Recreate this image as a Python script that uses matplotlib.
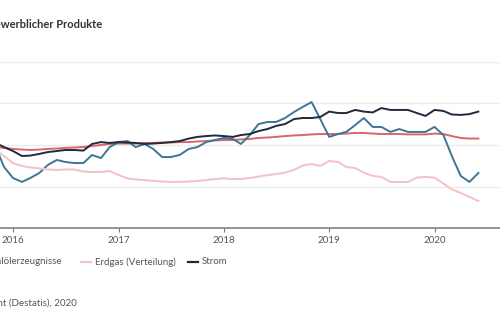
import matplotlib
import matplotlib.pyplot as plt
import matplotlib.dates as mdates
from matplotlib.lines import Line2D
import pandas as pd

matplotlib.use('Agg')
plt.ioff()

# monthly values, Nov 2015 .. Jun 2020 (index)
months = pd.date_range('2015-11-01', '2020-06-01', freq='MS')

insgesamt = [99.0, 98.6, 98.1, 97.8, 97.6, 97.8, 98.1, 98.3, 98.6, 98.8, 99.0, 99.5, 100.0, 100.5,
             100.7, 100.7, 100.7, 101.0, 101.0, 101.2, 101.2, 101.4, 101.4, 101.7, 101.9, 102.2,
             102.4, 102.4, 102.7, 102.9, 103.4, 103.6, 103.9, 104.3, 104.6, 104.8, 105.1, 105.3,
             105.3, 105.3, 105.5, 105.8, 105.8, 105.5, 105.3, 105.3, 105.3, 105.1, 105.1, 105.1,
             105.5, 105.3, 104.3, 103.4, 103.1, 103.1]

mineraloel = [99.5, 89.4, 84.1, 82.2, 84.1, 86.5, 90.4, 92.8, 91.8, 91.3, 91.3, 95.2, 93.7, 99.0,
              101.4, 101.9, 99.0, 100.5, 98.1, 94.2, 94.2, 95.2, 98.1, 99.0, 101.4, 102.4,
              103.4, 102.9, 100.5, 104.8, 110.1, 111.1, 111.1, 113.0, 115.9, 118.3, 120.7, 112.5,
              103.9, 105.3, 106.3, 109.6, 113.0, 108.7, 108.7, 106.3, 107.7, 106.3, 106.3, 106.3,
              108.7, 104.8, 94.7, 85.1, 82.2, 86.5]

erdgas = [97.6, 94.7, 91.3, 89.9, 89.2, 88.7, 88.2, 88.0, 88.2, 88.2, 87.2, 87.0, 87.0, 87.5,
          85.5, 83.9, 83.4, 83.1, 82.7, 82.4, 82.2, 82.2, 82.4, 82.7, 83.1, 83.6,
          83.9, 83.6, 83.6, 84.1, 84.8, 85.5, 86.0, 86.7, 88.0, 90.1, 90.8, 89.9,
          92.3, 91.8, 89.4, 88.9, 86.7, 85.1, 84.6, 82.2, 82.2, 82.2, 84.3, 84.6,
          84.3, 81.4, 78.6, 76.9, 75.0, 73.0]

strom = [101.0, 99.0, 97.1, 94.7, 94.9, 95.7, 96.6, 97.1, 97.6, 97.6, 97.3, 100.5, 101.4, 101.0,
         101.4, 101.2, 101.0, 100.5, 100.7, 101.0, 101.4, 101.9, 103.1, 103.9, 104.3, 104.6,
         104.3, 103.9, 104.8, 105.3, 106.7, 107.7, 109.2, 110.1, 112.5, 113.0, 113.0, 113.5,
         116.1, 115.4, 115.4, 116.9, 116.1, 115.7, 117.8, 116.9, 116.9, 116.9, 115.4, 114.0,
         116.9, 116.4, 114.7, 114.5, 114.9, 116.1]

yTicks = [60, 80, 100, 120, 140]
years = [2016, 2017, 2018, 2019, 2020]

series = [
    ('Insgesamt', insgesamt, '#d9666a'),
    ('Mineralölerzeugnisse', mineraloel, '#3f7595'),
    ('Erdgas (Verteilung)', erdgas, '#f2c2c6'),
    ('Strom', strom, '#1f2a3a'),
]

plt.rcParams['font.family'] = ['Lato', 'DejaVu Sans']
textColor = '#555555'

fig = plt.figure(figsize=(5, 3.3), dpi=100)
ax = fig.add_axes([-0.12, 1 - 228 / 330, 1.12, (228 - 62) / 330])

for name, values, color in series:
    ax.plot(months, values, color=color, lw=1.4, solid_joinstyle='round', zorder=3)

ax.set_ylim(yTicks[0], yTicks[-1])
ax.set_yticks(yTicks)
ax.set_yticklabels([])  # the value axis lies left of the visible crop
ax.set_xlim(pd.Timestamp('2015-04-23'), pd.Timestamp('2020-08-15'))
ax.set_xticks([pd.Timestamp(f'{y}-01-01') for y in years])
ax.xaxis.set_major_formatter(mdates.DateFormatter('%Y'))

ax.grid(axis='y', color='#ebebeb', lw=1)
ax.set_axisbelow(True)
for side in ['top', 'right', 'left']:
    ax.spines[side].set_visible(False)
ax.spines['bottom'].set_color('#777777')
ax.spines['bottom'].set_linewidth(1.1)
ax.tick_params(axis='x', length=3, color='#777777', labelsize=7, labelcolor=textColor, pad=3)
ax.tick_params(axis='y', length=0)

# title and source (cut at the left edge as in the original)
fig.text(102 / 500, 1 - 24 / 330, 'Erzeugerpreise gewerblicher Produkte', ha='right', va='center',
         fontsize=8, fontweight='bold', color='#333333')
fig.text(77 / 500, 1 - 303 / 330, 'Quelle: Statistisches Bundesamt (Destatis), 2020', ha='right',
         va='center', fontsize=7, color=textColor)

# legend (only the visible part)
legY = 1 - 262 / 330
fig.text(62 / 500, legY, 'Mineralölerzeugnisse', ha='right', va='center', fontsize=7, color=textColor)
legItems = [(81, 'Erdgas (Verteilung)', '#f2c2c6'), (188, 'Strom', '#1f2a3a')]
for xPx, label, color in legItems:
    fig.add_artist(Line2D([xPx / 500, (xPx + 10) / 500], [legY, legY], color=color, lw=1.6,
                          transform=fig.transFigure))
    fig.text((xPx + 14) / 500, legY, label, ha='left', va='center', fontsize=7, color=textColor)

fig.savefig('out.png', dpi=100)
plt.close(fig)
